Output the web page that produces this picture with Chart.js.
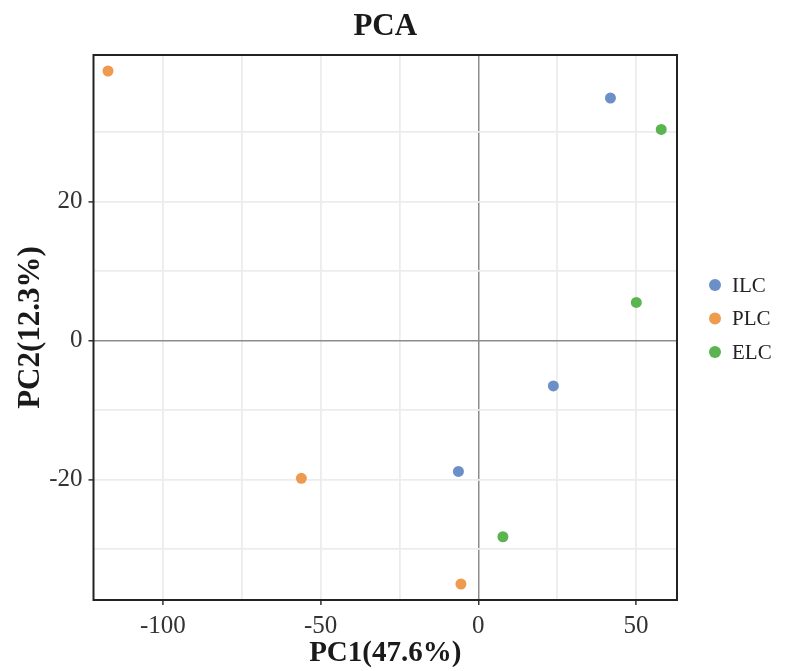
<!DOCTYPE html>
<html>
<head>
<meta charset="utf-8">
<script src="https://cdn.jsdelivr.net/npm/chart.js"></script>
<style>
  html, body { margin: 0; padding: 0; background: #fff; }
  #wrap { position: relative; width: 788px; height: 671px; }
</style>
</head>
<body>
<div id="wrap"><canvas id="pcaChart"></canvas></div>
<script>
// group names and colours
const groups = ['ILC', 'PLC', 'ELC'];
const groupColors = ['#6b8fc6', '#ee9b50', '#5cb451'];

// PC1 / PC2 scores per group
const ilcPC1 = [41.9, 23.8, -6.3];
const ilcPC2 = [34.9, -6.5, -18.8];
const plcPC1 = [-117.4, -56.1, -5.5];
const plcPC2 = [38.8, -19.8, -35.0];
const elcPC1 = [58.0, 50.1, 7.8];
const elcPC2 = [30.4, 5.5, -28.2];

// grid positions and which of them carry a label
const xGrid = [-100, -75, -50, -25, 0, 25, 50];
const xLabels = [-100, -50, 0, 50];
const yGrid = [-30, -20, -10, 0, 10, 20, 30];
const yLabels = [-20, 0, 20];

const FONT = "'Liberation Serif', 'Times New Roman', serif";

function toPoints(xs, ys) {
  return xs.map((x, i) => ({ x: x, y: ys[i] }));
}

const seriesX = [ilcPC1, plcPC1, elcPC1];
const seriesY = [ilcPC2, plcPC2, elcPC2];

const datasets = groups.map((g, i) => ({
  label: g,
  data: toPoints(seriesX[i], seriesY[i]),
  backgroundColor: groupColors[i],
  borderColor: groupColors[i],
  borderWidth: 0,
  pointRadius: 5.5,
  pointHoverRadius: 5.5
}));

// frame round the plotting panel
const framePlugin = {
  id: 'frame',
  afterDatasetsDraw(chart) {
    const a = chart.chartArea;
    const ctx = chart.ctx;
    ctx.save();
    ctx.strokeStyle = '#222';
    ctx.lineWidth = 2;
    ctx.strokeRect(a.left, a.top, a.right - a.left, a.bottom - a.top);
    ctx.restore();
  }
};

// legend at the right, ggplot style
const legendPlugin = {
  id: 'sideLegend',
  afterDraw(chart) {
    const a = chart.chartArea;
    const ctx = chart.ctx;
    const rowH = 33.5;
    const n = chart.data.datasets.length;
    const y0 = (a.top + a.bottom) / 2 - (n - 1) * rowH / 2 - 9;
    ctx.save();
    ctx.font = '21px ' + FONT;
    ctx.textBaseline = 'middle';
    ctx.textAlign = 'left';
    chart.data.datasets.forEach((ds, i) => {
      const y = y0 + i * rowH;
      ctx.fillStyle = ds.backgroundColor;
      ctx.beginPath();
      ctx.arc(a.right + 38, y, 6, 0, Math.PI * 2);
      ctx.fill();
      ctx.fillStyle = '#222';
      ctx.fillText(ds.label, a.right + 55, y + 1);
    });
    ctx.restore();
  }
};

function gridColor(ctx) {
  if (!ctx.tick) return '#ececec';
  return ctx.tick.value === 0 ? '#8c8c8c' : '#ececec';
}
function gridWidth(ctx) {
  if (!ctx.tick) return 1.5;
  return ctx.tick.value === 0 ? 1.5 : 1.8;
}

new Chart(document.getElementById('pcaChart'), {
  type: 'scatter',
  data: { datasets: datasets },
  options: {
    responsive: true,
    maintainAspectRatio: false,
    animation: false,
    layout: { padding: { left: 0, right: 111, top: 0, bottom: 0 } },
    plugins: {
      legend: { display: false },
      tooltip: { enabled: false },
      title: {
        display: true,
        text: 'PCA',
        fullSize: false,
        color: '#1a1a1a',
        font: { family: FONT, size: 31, weight: 'bold' },
        padding: { top: 8, bottom: 9.8 }
      }
    },
    scales: {
      x: {
        type: 'linear',
        min: -122,
        max: 63,
        afterBuildTicks(scale) {
          scale.ticks = xGrid.map(v => ({ value: v }));
        },
        afterFit(scale) { scale.height = 71; },
        border: { display: false },
        grid: {
          color: gridColor,
          lineWidth: gridWidth,
          drawTicks: true,
          tickLength: 5,
          tickColor: ctx => (ctx.tick && xLabels.includes(ctx.tick.value)) ? '#333' : 'rgba(0,0,0,0)',
          tickWidth: 1.5
        },
        ticks: {
          autoSkip: false,
          maxRotation: 0,
          padding: 6,
          color: '#333',
          font: { family: FONT, size: 25 },
          callback: v => xLabels.includes(v) ? String(v) : ''
        },
        title: {
          display: true,
          text: 'PC1(47.6%)',
          color: '#1a1a1a',
          font: { family: FONT, size: 29, weight: 'bold' },
          padding: { top: 0, bottom: 0 }
        }
      },
      y: {
        type: 'linear',
        min: -37.3,
        max: 41.1,
        afterBuildTicks(scale) {
          scale.ticks = yGrid.map(v => ({ value: v }));
        },
        afterFit(scale) { scale.width = 93.5; },
        border: { display: false },
        grid: {
          color: gridColor,
          lineWidth: gridWidth,
          drawTicks: true,
          tickLength: 5,
          tickColor: ctx => (ctx.tick && yLabels.includes(ctx.tick.value)) ? '#333' : 'rgba(0,0,0,0)',
          tickWidth: 1.5
        },
        ticks: {
          autoSkip: false,
          padding: 6,
          color: '#333',
          font: { family: FONT, size: 25 },
          callback: v => yLabels.includes(v) ? String(v) : ''
        },
        title: {
          display: true,
          text: 'PC2(12.3%)',
          color: '#1a1a1a',
          font: { family: FONT, size: 31, weight: 'bold' },
          padding: { top: 12, bottom: 0 }
        }
      }
    }
  },
  plugins: [framePlugin, legendPlugin]
});
</script>
</body>
</html>
